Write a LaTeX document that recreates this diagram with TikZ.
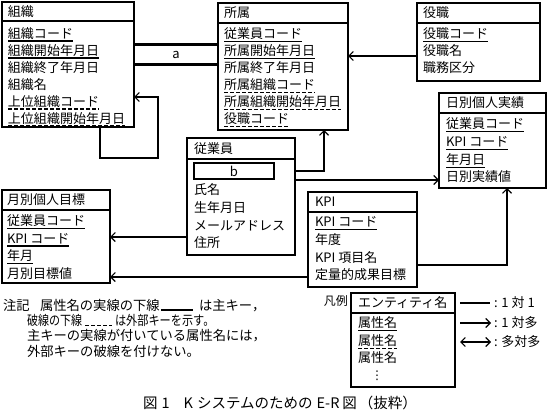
\documentclass[tikz,border=0pt]{standalone}
\usepackage{fontspec}
\usepackage{graphicx}
\setmainfont{Noto Sans CJK JP}
\newfontfamily\dejavu{DejaVu Sans}
\usetikzlibrary{arrows.meta}
\newcommand\erattr[4]{%
  \node[txt] (#1) at (#2) {#3};
  \path[#4] ([yshift=-1pt]#1.south west) -- ([yshift=-1pt]#1.south east);}
\newcommand\erhead[2]{%
  \draw[boxline] ([yshift=-#2pt]#1.north west) -- ([yshift=-#2pt]#1.north east);}
\begin{document}
\begin{tikzpicture}[x=1pt,y=-1pt,
  boxline/.style={line width=1.25pt},
  ent/.style={draw, line width=1.25pt, anchor=north west, inner sep=0pt, outer sep=0pt},
  txt/.style={anchor=west, inner sep=0pt, outer sep=0pt, text height=11.44pt, text depth=1.56pt, font=\fontsize{13}{15}\selectfont},
  note/.style={anchor=west, inner sep=0pt, outer sep=0pt, text height=11.7pt, text depth=1.6pt, font=\fontsize{13.3}{15}\selectfont},
  pkl/.style={draw, line width=1.1pt},
  fkl/.style={draw, line width=1.1pt, dash pattern=on 3.8pt off 2.2pt},
  nol/.style={},
  rel/.style={draw, line width=1.15pt, -{Straight Barb[length=4.5pt,width=9pt,line width=1.1pt]}},
  relboth/.style={draw, line width=1.15pt, {Straight Barb[length=4.5pt,width=9pt,line width=1.1pt]}-{Straight Barb[length=4.5pt,width=9pt,line width=1.1pt]}},
  plainrel/.style={draw, line width=1.15pt},
  blankline/.style={line width=2.7pt},
]
\useasboundingbox (0,0) rectangle (548,412);
\fill[white] (0,0) rectangle (548,412);

% ---------- entities ----------
\node[ent, minimum width=132pt, minimum height=125pt] (soshiki) at (2,2) {};
\erhead{soshiki}{19}
\node[txt] (soshikiH) at (8,12) {組織};
\erattr{s1}{8,33.5}{組織コード}{pkl}
\erattr{s2}{8,50.5}{組織開始年月日}{pkl}
\erattr{s3}{8,67.5}{組織終了年月日}{nol}
\erattr{s4}{8,84.5}{組織名}{nol}
\erattr{s5}{8,101.5}{上位組織コード}{fkl}
\erattr{s6}{8,118.5}{上位組織開始年月日}{fkl}

\node[ent, minimum width=130pt, minimum height=127pt] (shozoku) at (218,3) {};
\erhead{shozoku}{20}
\node[txt] (shozokuH) at (224,13) {所属};
\erattr{z1}{224,34}{従業員コード}{pkl}
\erattr{z2}{224,51}{所属開始年月日}{pkl}
\erattr{z3}{224,68}{所属終了年月日}{nol}
\erattr{z4}{224,85}{所属組織コード}{fkl}
\erattr{z5}{224,102}{所属組織開始年月日}{fkl}
\erattr{z6}{224,119}{役職コード}{fkl}

\node[ent, minimum width=123pt, minimum height=78pt] (yakushoku) at (417,3) {};
\erhead{yakushoku}{20}
\node[txt] (yakushokuH) at (423,13) {役職};
\erattr{y1}{423,34}{役職コード}{pkl}
\erattr{y2}{423,51}{役職名}{nol}
\erattr{y3}{423,68}{職務区分}{nol}

\node[ent, minimum width=107pt, minimum height=95pt] (nichibetsu) at (439,93) {};
\erhead{nichibetsu}{20}
\node[txt] (nichibetsuH) at (446,103) {日別個人実績};
\erattr{n1}{446,124}{従業員コード}{pkl}
\erattr{n2}{446,142}{KPI コード}{pkl}
\erattr{n3}{446,160}{年月日}{pkl}
\erattr{n4}{446,177}{日別実績値}{nol}

\node[ent, minimum width=108pt, minimum height=117pt] (jugyoin) at (187,138) {};
\erhead{jugyoin}{21}
\node[txt] (jugyoinH) at (194,149) {従業員};
\node[draw, line width=2.5pt, minimum width=80pt, minimum height=16pt, inner sep=0pt,
      font=\fontsize{13}{15}\selectfont] (relb) at (234,171) {b};
\erattr{j1}{194,190}{氏名}{nol}
\erattr{j2}{194,208}{生年月日}{nol}
\erattr{j3}{194,226}{メールアドレス}{nol}
\erattr{j4}{194,243}{住所}{nol}

\node[ent, minimum width=108pt, minimum height=93pt] (getsubetsu) at (2,190) {};
\erhead{getsubetsu}{20}
\node[txt] (getsubetsuH) at (7,200) {月別個人目標};
\erattr{g1}{7,221}{従業員コード}{pkl}
\erattr{g2}{7,238.5}{KPI コード}{pkl}
\erattr{g3}{7,256}{年月}{pkl}
\erattr{g4}{7,273.5}{月別目標値}{nol}

\node[ent, minimum width=109pt, minimum height=95pt] (kpi) at (308,192) {};
\erhead{kpi}{20}
\node[txt] (kpiH) at (315,202) {KPI};
\erattr{k1}{315,222}{KPI コード}{pkl}
\erattr{k2}{315,240}{年度}{nol}
\erattr{k3}{315,258}{KPI 項目名}{nol}
\erattr{k4}{315,275}{定量的成果目標}{nol}

% ---------- relationship a ----------
\node[minimum width=84pt, minimum height=20pt, inner sep=0pt, font=\fontsize{13}{15}\selectfont] (rela) at (176,54.5) {a};
\draw[blankline] (rela.north west) -- (rela.north east);
\draw[blankline] (rela.south west) -- (rela.south east);

% ---------- connectors ----------
\draw[rel] (100,0 |- soshiki.south) |- (158,158) |- (soshiki.east |- 0,97);
\draw[rel] (yakushoku.west |- 0,56) -- (shozoku.east |- 0,56);
\draw[rel] (jugyoin.east |- 0,171) -| (324,0 |- shozoku.south);
\draw[rel] (jugyoin.east |- 0,180) -- (nichibetsu.west |- 0,180);
\draw[rel] (jugyoin.west |- 0,237) -- (getsubetsu.east |- 0,237);
\draw[rel] (kpi.west |- 0,277) -- (getsubetsu.east |- 0,277);
\draw[rel] (kpi.east |- 0,265) -| (507,0 |- nichibetsu.south);

% ---------- legend ----------
\node[anchor=east, inner sep=0pt, font=\fontsize{12}{14}\selectfont] (hanreiL) at (348,301) {凡例};
\node[ent, minimum width=104pt, minimum height=94pt] (hanrei) at (351,293) {};
\erhead{hanrei}{20}
\node[txt] (hanreiH) at (358,303) {エンティティ名};
\erattr{h1}{358,323}{属性名}{pkl}
\erattr{h2}{358,341}{属性名}{fkl}
\erattr{h3}{358,358}{属性名}{nol}
\node[inner sep=0pt, font=\dejavu\fontsize{12}{14}\selectfont] (h4) at (377,376) {⋮};

\coordinate (l1s) at (460,303); \coordinate (l1e) at (490,303);
\coordinate (l2s) at (460,323); \coordinate (l2e) at (491,323);
\coordinate (l3s) at (460,342); \coordinate (l3e) at (491,342);
\draw[plainrel] (l1s) -- (l1e);
\draw[rel] (l2s) -- (l2e);
\draw[relboth] (l3s) -- (l3e);
\node[txt] (t1) at (494,303) {: 1 対 1};
\node[txt] (t2) at (494,323) {: 1 対多};
\node[txt] (t3) at (494,342) {: 多対多};

% ---------- note ----------
\node[note] (c1) at (3,305) {注記};
\node[note] (c2) at (40,305) {属性名の実線の下線};
\coordinate (u1s) at (161,310); \coordinate (u1e) at (193,310);
\draw[pkl] (u1s) -- (u1e);
\node[note] (c3) at (199,305) {は主キー，};
\node[note] (c4) at (27,320.5) {\scalebox{0.83}[1]{破線の下線}};
\coordinate (u2s) at (85,325.5); \coordinate (u2e) at (112,325.5);
\draw[fkl] (u2s) -- (u2e);
\node[note] (c5) at (115,320.5) {\scalebox{0.84}[1]{は外部キーを示す。}};
\node[note] (c6) at (27,335.5) {主キーの実線が付いている属性名には，};
\node[note] (c7) at (27,351) {外部キーの破線を付けない。};

% ---------- caption ----------
\node[anchor=west, inner sep=0pt, font=\fontsize{14.5}{17}\selectfont] (cap) at (143,403)
  {図\hspace{4pt}1\hspace{14pt}K\hspace{4pt}システムのための\hspace{4pt}E-R\hspace{3pt}図\hspace{2pt}（抜粋）};
\end{tikzpicture}
\end{document}
